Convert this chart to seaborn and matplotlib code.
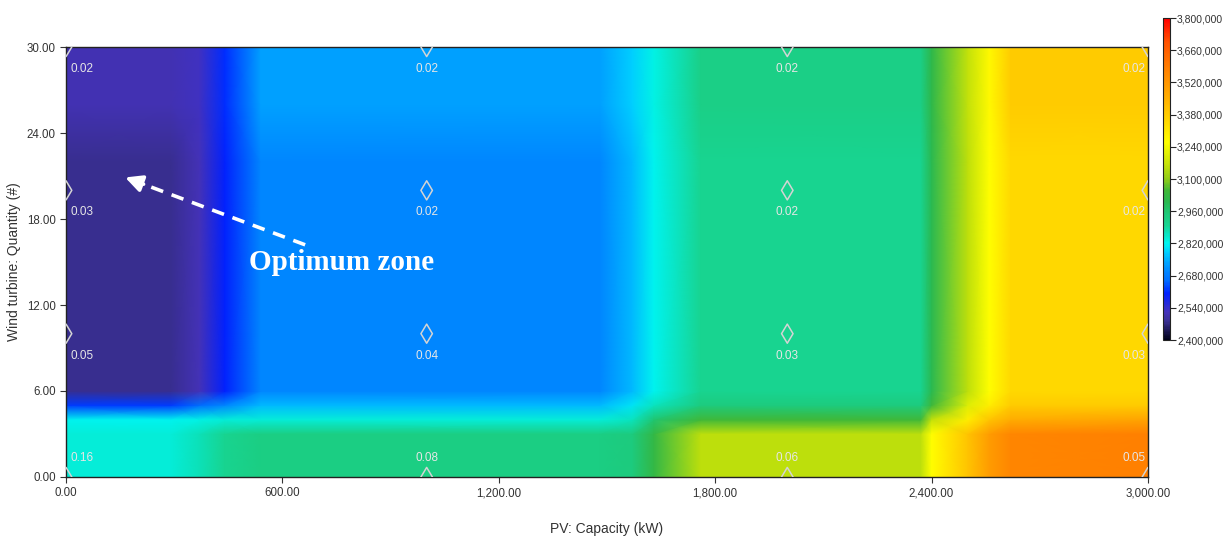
import numpy as np
import pandas as pd
import matplotlib
matplotlib.use("Agg")
import matplotlib.pyplot as plt
import seaborn as sns
from matplotlib.colors import LinearSegmentedColormap
from matplotlib.ticker import FuncFormatter

sns.set_style("white")
plt.rcParams['font.family'] = ['DejaVu Sans Condensed', 'Liberation Sans', 'DejaVu Sans']

# surface grid (NPC in millions)
pv_kw = [0, 290, 370, 440, 540, 1480, 1570, 1630, 1760, 2370, 2400, 2500, 2560, 2620, 3000]
wt_qty = [0, 3, 4, 5, 6, 22, 26, 30]
npc_m = [
    [2.84, 2.84, 2.87, 2.90, 2.93, 2.93, 2.94, 3.02, 3.15, 3.15, 3.26, 3.40, 3.50, 3.56, 3.58],
    [2.84, 2.84, 2.87, 2.90, 2.93, 2.93, 2.94, 3.02, 3.15, 3.15, 3.26, 3.40, 3.50, 3.56, 3.58],
    [2.82, 2.82, 2.83, 2.84, 2.84, 2.84, 2.86, 2.96, 3.05, 3.05, 3.16, 3.30, 3.40, 3.46, 3.48],
    [2.62, 2.62, 2.66, 2.70, 2.76, 2.76, 2.80, 2.86, 2.94, 2.94, 3.04, 3.20, 3.30, 3.38, 3.38],
    [2.48, 2.48, 2.52, 2.60, 2.70, 2.70, 2.76, 2.82, 2.90, 2.90, 3.00, 3.15, 3.26, 3.35, 3.35],
    [2.48, 2.48, 2.52, 2.60, 2.70, 2.70, 2.76, 2.82, 2.90, 2.90, 3.00, 3.15, 3.26, 3.35, 3.35],
    [2.51, 2.51, 2.53, 2.61, 2.73, 2.73, 2.78, 2.83, 2.92, 2.92, 3.01, 3.16, 3.27, 3.38, 3.38],
    [2.51, 2.51, 2.53, 2.61, 2.73, 2.73, 2.78, 2.83, 2.92, 2.92, 3.01, 3.16, 3.27, 3.38, 3.38],
]

# labelled sensitivity points
pt_pv = [0, 1000, 2000, 3000]
pt_wt = [0, 10, 20, 30]
pt_vals = {
    30: ["0.02", "0.02", "0.02", "0.02"],
    20: ["0.03", "0.02", "0.02", "0.02"],
    10: ["0.05", "0.04", "0.03", "0.03"],
    0: ["0.16", "0.08", "0.06", "0.05"],
}

cb_ticks = [2400000, 2540000, 2680000, 2820000, 2960000, 3100000,
            3240000, 3380000, 3520000, 3660000, 3800000]

# HOMER-like colour scale
nodes = [(2.40, '#000018'), (2.48, '#3a3094'), (2.52, '#4532bc'), (2.60, '#0020ff'),
         (2.66, '#0070ff'), (2.70, '#0088ff'), (2.74, '#00a8ff'), (2.78, '#00d0ff'),
         (2.82, '#00f6ee'), (2.86, '#0ae4c0'), (2.90, '#18d490'), (2.95, '#1ec878'),
         (3.00, '#2ab850'), (3.05, '#40b838'), (3.10, '#90cc18'), (3.16, '#c4e20a'),
         (3.26, '#ffff00'), (3.36, '#ffd400'), (3.45, '#ffb000'), (3.58, '#ff8000'),
         (3.70, '#ff5000'), (3.80, '#ff0000')]
cmap = LinearSegmentedColormap.from_list(
    'homer', [((v - 2.4) / 1.4, c) for v, c in nodes])

fig = plt.figure(figsize=(12.23, 5.38), dpi=100)
ax = fig.add_axes([0.054, 0.1134, 0.8846, 0.7992])

X, Y = np.meshgrid(pv_kw, wt_qty)
Z = np.array(npc_m) * 1e6
mesh = ax.pcolormesh(X, Y, Z, shading='gouraud', cmap=cmap, vmin=2.4e6, vmax=3.8e6)

pts = pd.DataFrame([(p, w, pt_vals[w][i]) for w in pt_wt for i, p in enumerate(pt_pv)],
                   columns=['pv', 'wt', 'lab'])
sns.scatterplot(data=pts, x='pv', y='wt', marker='d', s=95, facecolor='none',
                edgecolor='#d4d4d4', linewidth=1.1, ax=ax, legend=False, zorder=3)

for _, r in pts.iterrows():
    dy = 19 if r.wt == 0 else -22
    if r.pv == 0:
        ha, dx = 'left', 4
    elif r.pv == 3000:
        ha, dx = 'right', -2
    else:
        ha, dx = 'center', 0
    ax.annotate(r.lab, (r.pv, r.wt), xytext=(dx * 0.72, dy * 0.72), textcoords='offset points',
                ha=ha, va='center', fontsize=8.5, color='#e6e6e6', zorder=4)

ax.set_xlim(0, 3000)
ax.set_ylim(0, 30)
ax.set_xticks(np.arange(0, 3001, 600))
ax.set_yticks(np.arange(0, 31, 6))
ax.xaxis.set_major_formatter(FuncFormatter(lambda v, p: f"{v:,.2f}"))
ax.yaxis.set_major_formatter(FuncFormatter(lambda v, p: f"{v:,.2f}"))
ax.tick_params(axis='both', which='major', direction='out', length=4, width=0.8,
               labelsize=8.3, labelcolor='#333333', color='#333333',
               bottom=True, left=True)
for s in ax.spines.values():
    s.set_color('#222222')
    s.set_linewidth(1.0)
ax.set_xlabel('PV: Capacity (kW)', fontsize=10, color='#333333', labelpad=16)
ax.set_ylabel('Wind turbine: Quantity (#)', fontsize=10, color='#333333', labelpad=4)

# optimum zone callout: dashed shaft + solid head
ax.plot([663, 205], [16.2, 20.52], color='white', lw=2.6, ls=(0, (3.5, 2.5)), zorder=5)
ax.annotate('', xy=(164, 20.9), xytext=(215, 20.43),
            arrowprops=dict(arrowstyle='-|>,head_length=1.0,head_width=0.5',
                            lw=2.6, color='white', shrinkA=0, shrinkB=0), zorder=5)
ax.text(765, 15.0, 'Optimum zone', fontsize=21, fontweight='bold', color='white',
        family=['Liberation Serif', 'DejaVu Serif'], ha='center', va='center', zorder=5)

cax = fig.add_axes([0.951, 0.368, 0.0057, 0.5985])
cb = fig.colorbar(mesh, cax=cax, ticks=cb_ticks)
cb.ax.yaxis.set_major_formatter(FuncFormatter(lambda v, p: f"{v:,.0f}"))
cb.ax.tick_params(labelsize=7.5, labelcolor='#333333', length=4, width=0.8, pad=1)
cb.outline.set_edgecolor('#222222')
cb.outline.set_linewidth(0.8)

fig.savefig('out.png', dpi=100)
